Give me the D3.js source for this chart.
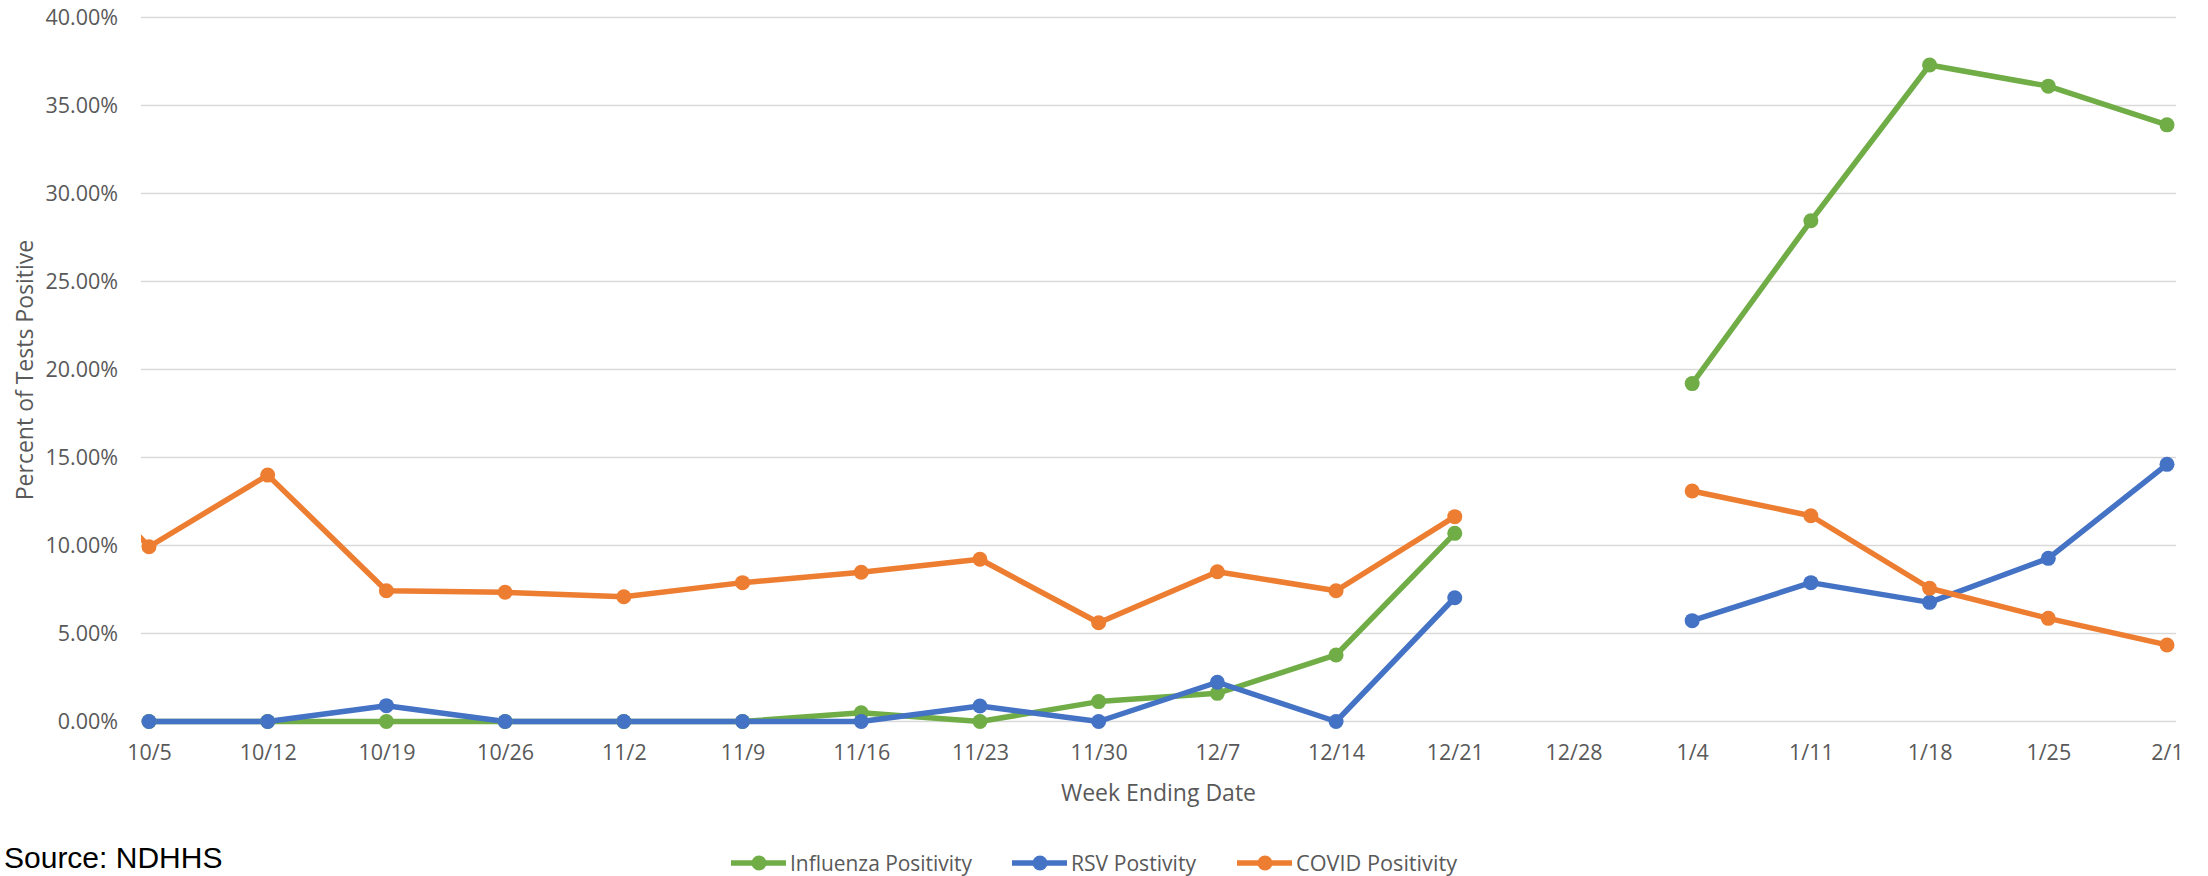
<!DOCTYPE html>
<html lang="en">
<head>
  <meta charset="UTF-8">
  <title>Percent of Tests Positive</title>
</head>
<body>
<style>
  * {
    padding: 0;
    margin: 0;
  }

  body {
    background: #fff;
    overflow: hidden;
  }

  #app {
    width: 2208px;
    height: 876px;
  }

  #app svg {
    display: block;
  }
</style>

<div id="app"></div>

<script src="https://cdn.jsdelivr.net/npm/d3@7/dist/d3.min.js"></script>
<script>
  // week ending dates (x axis categories)
  var weeks = ["10/5", "10/12", "10/19", "10/26", "11/2", "11/9", "11/16", "11/23", "11/30",
    "12/7", "12/14", "12/21", "12/28", "1/4", "1/11", "1/18", "1/25", "2/1"];

  // percent positive, null = no data that week
  var influenza = [0, 0, 0, 0, 0, 0, 0.5, 0, 1.13, 1.6, 3.78, 10.69, null, 19.2, 28.45, 37.3, 36.1, 33.9];
  var rsv = [0, 0, 0.9, 0, 0, 0, 0, 0.88, 0, 2.23, 0, 7.03, null, 5.73, 7.89, 6.77, 9.27, 14.61];
  var covid = [9.93, 14.0, 7.43, 7.34, 7.09, 7.89, 8.48, 9.22, 5.61, 8.51, 7.43, 11.64, null, 13.1, 11.69, 7.57, 5.86, 4.35];
  // week before 10/5, only its clipped segment shows at the left edge
  var covidPrior = 17.0;

  var yTicks = [0, 5, 10, 15, 20, 25, 30, 35, 40];

  var series = [
    {name: "Influenza Positivity", values: influenza, color: "#70ad47"},
    {name: "RSV Postivity", values: rsv, color: "#4472c4"},
    {name: "COVID Positivity", values: covid, color: "#ed7d31", prior: covidPrior}
  ];

  function drawChart() {
    var
      W = 2208, H = 876,
      plotLeft = 141, plotRight = 2176,
      textColor = "#595959",
      font = "'Open Sans', sans-serif",
      svg = d3.select('#app').append("svg").attr("width", W).attr("height", H)

    var x = d3.scalePoint().domain(weeks).range([149, 2167]);
    var y = d3.scaleLinear().domain([0, 40]).range([721.5, 17.5]);

    // gridlines
    svg.append("g")
      .selectAll("line").data(yTicks).join("line")
      .attr("x1", plotLeft).attr("x2", plotRight)
      .attr("y1", d => y(d)).attr("y2", d => y(d))
      .attr("stroke", "#d9d9d9").attr("stroke-width", 1.5);

    // y axis labels
    var yAxis = d3.axisLeft(y).tickValues(yTicks).tickSize(0).tickPadding(0)
      .tickFormat(d => d.toFixed(2) + "%");
    var yg = svg.append("g").attr("transform", "translate(118,0)").call(yAxis);
    yg.select(".domain").remove();
    yg.selectAll("text").attr("fill", textColor).style("font-family", font).style("font-size", "21.5px");

    // x axis labels
    var xAxis = d3.axisBottom(x).tickSize(0).tickPadding(0);
    var xg = svg.append("g").attr("transform", "translate(0,745)").call(xAxis);
    xg.select(".domain").remove();
    xg.selectAll("text").attr("fill", textColor).style("font-family", font).style("font-size", "21.5px");

    // axis titles
    svg.append("text")
      .attr("transform", "translate(33,370) rotate(-90)")
      .attr("text-anchor", "middle")
      .attr("fill", textColor).style("font-family", font).style("font-size", "23px")
      .text("Percent of Tests Positive");

    svg.append("text")
      .attr("x", (plotLeft + plotRight) / 2).attr("y", 801)
      .attr("text-anchor", "middle")
      .attr("fill", textColor).style("font-family", font).style("font-size", "23px")
      .text("Week Ending Date");

    svg.append("clipPath").attr("id", "plotClip")
      .append("rect").attr("x", plotLeft).attr("y", 0).attr("width", plotRight - plotLeft).attr("height", H);

    var plot = svg.append("g").attr("clip-path", "url(#plotClip)");

    var lineGenerator = d3.line()
      .defined(d => d.v != null)
      .x(d => d.x).y(d => y(d.v));

    series.forEach(function (s) {
      var pts = s.values.map((v, i) => ({x: x(weeks[i]), v: v}));
      if (s.prior != null) pts.unshift({x: x(weeks[0]) - x.step(), v: s.prior});

      plot.append("path")
        .attr("fill", "none").attr("stroke", s.color).attr("stroke-width", 5.5)
        .attr("stroke-linejoin", "round")
        .attr("d", lineGenerator(pts));
    });

    series.forEach(function (s) {
      svg.append("g")
        .selectAll("circle")
        .data(s.values.map((v, i) => ({w: weeks[i], v: v})).filter(d => d.v != null))
        .join("circle")
        .attr("cx", d => x(d.w)).attr("cy", d => y(d.v)).attr("r", 7.5)
        .attr("fill", s.color);
    });

    // legend (text is condensed in the original)
    var legendX = [731, 1012, 1237];
    var legendW = [182, 125, 161];
    var legend = svg.append("g").attr("transform", "translate(0,863)");
    series.forEach(function (s, i) {
      var g = legend.append("g").attr("transform", "translate(" + legendX[i] + ",0)");
      g.append("line").attr("x1", 0).attr("x2", 55).attr("y1", 0).attr("y2", 0)
        .attr("stroke", s.color).attr("stroke-width", 5.5);
      g.append("circle").attr("cx", 28).attr("cy", 0).attr("r", 7.5).attr("fill", s.color);
      g.append("text").attr("x", 59).attr("y", 0).attr("dy", "0.35em")
        .attr("textLength", legendW[i]).attr("lengthAdjust", "spacingAndGlyphs")
        .attr("fill", textColor).style("font-family", font).style("font-size", "22px")
        .text(s.name);
    });

    // source note at the bottom edge
    svg.append("text")
      .attr("x", 4).attr("y", 868)
      .attr("fill", "#000").style("font-family", "'Liberation Sans', Arial, sans-serif").style("font-size", "30px")
      .text("Source: NDHHS");
  }

  drawChart()
</script>

</body>
</html>
